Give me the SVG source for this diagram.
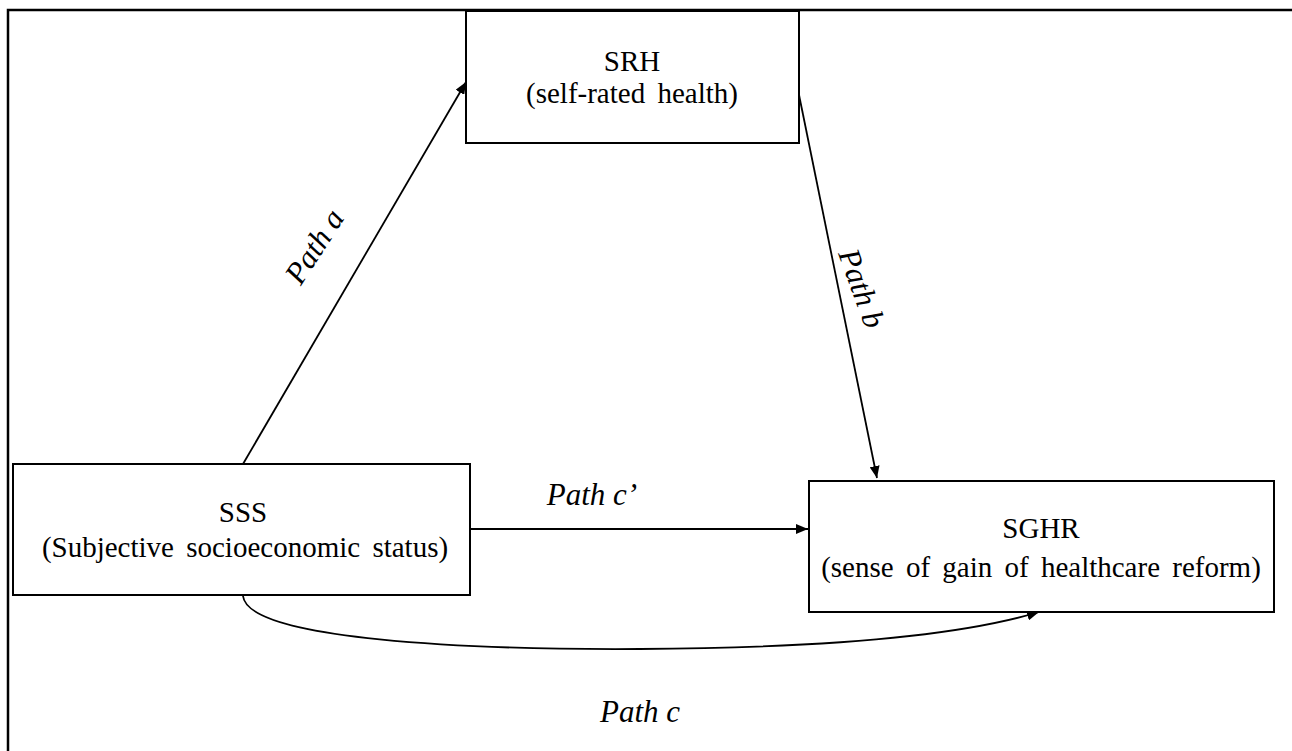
<svg xmlns="http://www.w3.org/2000/svg" width="1292" height="751" viewBox="0 0 1292 751">
<style>
.box{fill:#fff;stroke:#000;stroke-width:2}
.frame{fill:none;stroke:#000;stroke-width:2.5}
.t{font-size:29px;fill:#000;text-anchor:middle;word-spacing:5px}
.lbl{font-size:31px;font-style:italic;fill:#000;text-anchor:middle}
.c{fill:none;stroke:#000;stroke-width:1.8}
</style>
<defs>
<marker id="ah" viewBox="0 0 12 10" refX="12" refY="5" markerWidth="12" markerHeight="10" markerUnits="userSpaceOnUse" orient="auto">
<path d="M0,0 L12,5 L0,10 z" fill="#000"/>
</marker>
</defs>
<rect width="1292" height="751" fill="#fff"/>
<rect class="frame" x="8" y="10" width="1300" height="760"/>
<g font-family="Liberation Serif, Times New Roman, serif">
<g id="connectors">
<line class="c" x1="243" y1="464" x2="466" y2="82" marker-end="url(#ah)"/>
<line class="c" x1="797" y1="85" x2="877" y2="478" marker-end="url(#ah)"/>
<line class="c" x1="470" y1="529" x2="808" y2="529" marker-end="url(#ah)"/>
<path class="c" d="M243,596 C248,640 470,650 640,649 C820,648 960,636 1039,612" marker-end="url(#ah)"/>
<text class="lbl" transform="translate(323,252) rotate(-57)">Path a</text>
<text class="lbl" transform="translate(852,292) rotate(70)">Path b</text>
<text class="lbl" x="592" y="505">Path c’</text>
<text class="lbl" x="640" y="722">Path c</text>
</g>
<g id="SRH">
<rect class="box" x="466" y="11" width="333" height="132"/>
<text class="t" x="632" y="71">SRH</text>
<text class="t" x="632" y="103">(self-rated health)</text>
</g>
<g id="SSS">
<rect class="box" x="13" y="464" width="457" height="131"/>
<text class="t" x="243" y="522">SSS</text>
<text class="t" x="245" y="557">(Subjective socioeconomic status)</text>
</g>
<g id="SGHR">
<rect class="box" x="809" y="481" width="465" height="131"/>
<text class="t" x="1041" y="538">SGHR</text>
<text class="t" x="1041" y="577">(sense of gain of healthcare reform)</text>
</g>
</g>
</svg>
